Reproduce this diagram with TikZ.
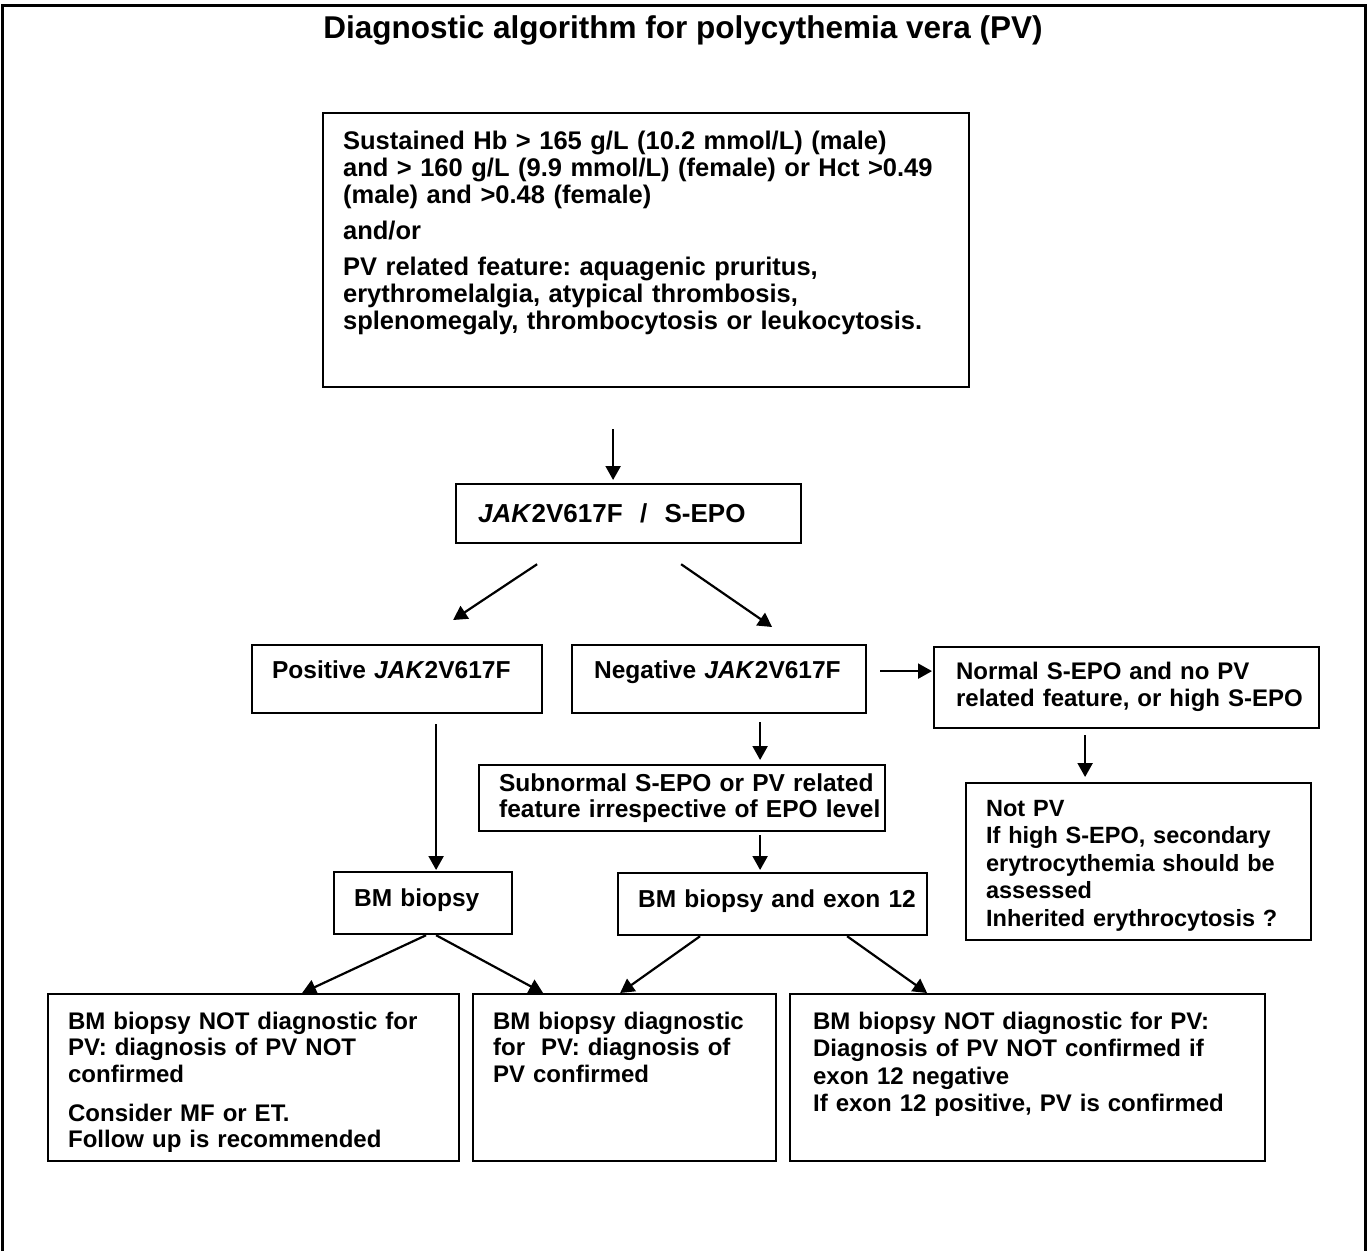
\documentclass[tikz,border=0pt]{standalone}
\usepackage{fontspec}
\setmainfont{Liberation Sans}
\usetikzlibrary{arrows.meta}
\frenchspacing

\newcommand{\jak}{\textit{JAK}2V617F}
\newcommand{\lines}[1]{\begin{tabular}[t]{@{}l@{}}#1\end{tabular}}
\newcommand{\fs}[2]{\fontsize{#1}{#2}\selectfont\bfseries}

\tikzset{
  box/.style={draw, line width=2.2pt, anchor=north west, inner xsep=20pt,
    inner ysep=0pt, align=left, font=\fs{24}{26.5}},
  big/.style={font=\fs{24.5}{26}},
  arr/.style={line width=2.2pt, -{Triangle[length=14pt,width=15pt]}},
}

\begin{document}
\begin{tikzpicture}[x=1pt,y=-1pt]
  \useasboundingbox (0,0) rectangle (1368,1251);
  \draw[line width=3pt] (2,1251) -- (2,5) -- (1365,5) -- (1365,1251);
  \node[font=\fs{31.5}{38}, anchor=base] (title) at (683,38)
    {Diagnostic algorithm for polycythemia vera (PV)};

  % criteria
  \node[box, font=\fs{25.5}{27}, text width=606pt, text height=36pt, text depth=238pt]
    (hb) at (322,112)
    {\lines{Sustained Hb > 165 g/L (10.2 mmol/L) (male)\\
     and > 160 g/L (9.9 mmol/L) (female) or Hct >0.49\\
     (male) and >0.48 (female)\\[9pt]
     and/or\\[9pt]
     PV related feature: aquagenic pruritus,\\
     erythromelalgia, atypical thrombosis,\\
     splenomegaly, thrombocytosis or leukocytosis.}};

  \node[box, font=\fs{26}{28}, inner xsep=22pt, text width=301pt, text height=38pt, text depth=21pt]
    (jak) at (455,483) {\lines{\jak{} \ / \ S-EPO}};

  \node[box, big, text width=250pt, text height=33pt, text depth=35pt]
    (pos) at (251,644) {\lines{Positive \jak}};
  \node[box, big, inner xsep=22pt, text width=250pt, text height=33pt, text depth=35pt]
    (neg) at (571,644) {\lines{Negative \jak}};
  \node[box, font=\fs{24}{27}, inner xsep=22pt, text width=341pt,
    text height=32pt, text depth=49pt]
    (norm) at (933,646) {\lines{Normal S-EPO and no PV\\ related feature, or high S-EPO}};

  \node[box, font=\fs{23.5}{27.5}, text width=305pt, text height=33pt, text depth=124pt]
    (notpv) at (965,782)
    {\lines{Not PV\\ If high S-EPO, secondary\\ erytrocythemia should be\\ assessed\\
     Inherited erythrocytosis ?}};

  \node[box, big, text width=366pt, text height=26pt, text depth=40pt]
    (sub) at (478,764)
    {\lines{Subnormal S-EPO or PV related\\ feature irrespective of EPO level}};

  \node[box, big, text width=138pt, text height=34pt, text depth=28pt]
    (bma) at (333,871) {\lines{BM biopsy}};
  \node[box, big, text width=269pt, text height=34pt, text depth=28pt]
    (bmb) at (617,872) {\lines{BM biopsy and exon 12}};

  % outcomes
  \node[box, text width=371pt, text height=35pt, text depth=132pt]
    (nodiag) at (47,993)
    {\lines{BM biopsy NOT diagnostic for\\ PV: diagnosis of PV NOT\\ confirmed\\[12.5pt]
     Consider MF or ET.\\ Follow up is recommended}};
  \node[box, text width=263pt, text height=35pt, text depth=132pt]
    (diag) at (472,993)
    {\lines{BM biopsy diagnostic\\ for \ PV: diagnosis of\\ PV confirmed}};
  \node[box, font=\fs{24}{27.5}, inner xsep=23pt, text width=429pt, text height=35pt, text depth=132pt]
    (exon) at (789,993)
    {\lines{BM biopsy NOT diagnostic for PV:\\ Diagnosis of PV NOT confirmed if\\
     exon 12 negative\\ If exon 12 positive, PV is confirmed}};

  % arrows
  \draw[arr] ([xshift=-15.5pt,yshift=-41pt]hb.south -| jak.north) -- ([xshift=-15.5pt,yshift=3pt]jak.north);
  \draw[arr] ([xshift=-91.5pt,yshift=-20pt]jak.south) -- ([xshift=56pt,yshift=24pt]pos.north);
  \draw[arr] ([xshift=52.5pt,yshift=-20pt]jak.south) -- ([xshift=53pt,yshift=17pt]neg.north);
  \draw[arr] ([xshift=13pt,yshift=8pt]neg.east) -- ([xshift=-1pt,yshift=16.5pt]norm.west);
  \draw[arr] ([xshift=-41.5pt,yshift=-6pt]norm.south) -- ([xshift=-53.5pt,yshift=5pt]notpv.north);
  \draw[arr] ([xshift=41pt,yshift=-8pt]neg.south) -- ([xshift=78pt,yshift=4pt]sub.north);
  \draw[arr] ([xshift=78pt,yshift=-3pt]sub.south) -- ([xshift=-12.5pt,yshift=2pt]bmb.north);
  \draw[arr] ([xshift=39pt,yshift=-10pt]pos.south) -- ([xshift=13pt,yshift=1pt]bma.north);
  \draw[arr] ([xshift=3pt]bma.south) -- ([xshift=48.5pt]nodiag.north);
  \draw[arr] ([xshift=13pt]bma.south) -- ([xshift=-81.5pt]diag.north);
  \draw[arr] ([xshift=-72.5pt]bmb.south) -- ([xshift=-4.5pt]diag.north);
  \draw[arr] ([xshift=74.5pt]bmb.south) -- ([xshift=-100.5pt]exon.north);
\end{tikzpicture}
\end{document}
